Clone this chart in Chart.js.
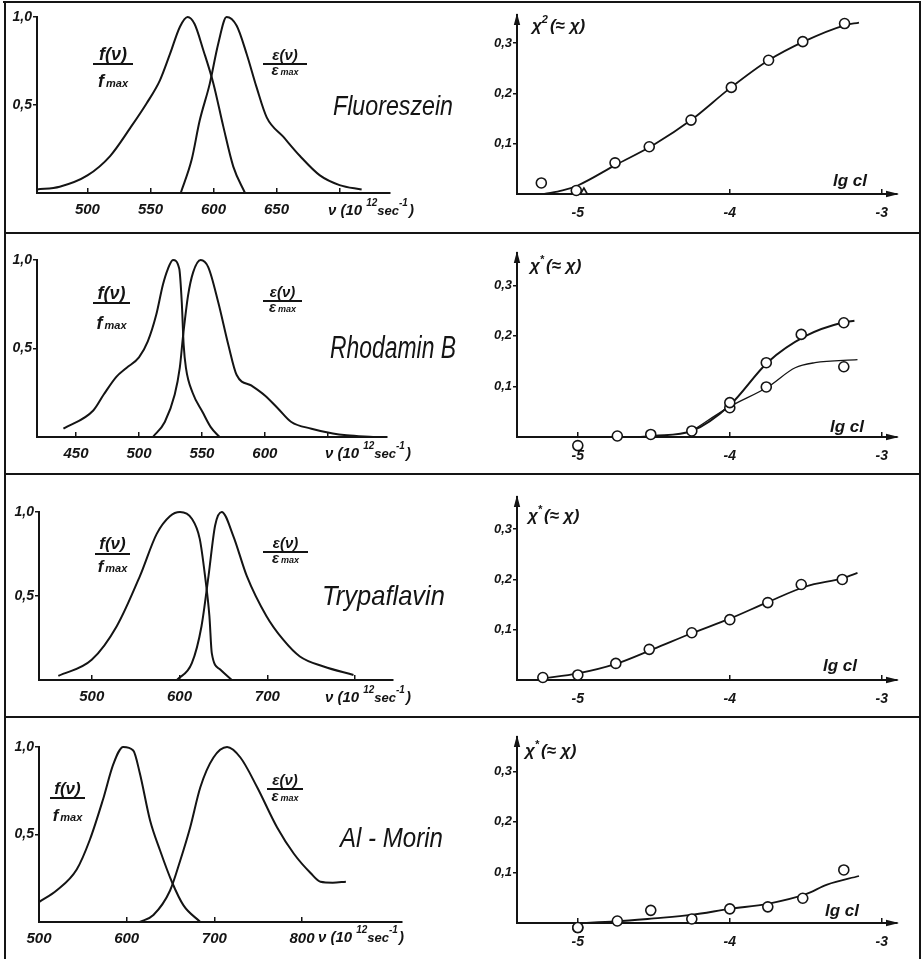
<!DOCTYPE html>
<html><head><meta charset="utf-8">
<script src="https://cdn.jsdelivr.net/npm/chart.js@4/dist/chart.umd.min.js"></script>
<style>
html,body{margin:0;padding:0;background:#fff;}
#wrap{position:relative;width:923px;height:959px;overflow:hidden;background:#fff;}
#wrap canvas{position:absolute;}
.ln{position:absolute;background:#151515;}
</style></head><body>
<div id="wrap">
<canvas id="c1L"></canvas><canvas id="c1R"></canvas>
<canvas id="c2L"></canvas><canvas id="c2R"></canvas>
<canvas id="c3L"></canvas><canvas id="c3R"></canvas>
<canvas id="c4L"></canvas><canvas id="c4R"></canvas>
<div class="ln" style="left:3px;top:1px;width:918px;height:2px"></div>
<div class="ln" style="left:4px;top:1px;width:2px;height:958px"></div>
<div class="ln" style="left:919px;top:1px;width:2px;height:958px"></div>
<div class="ln" style="left:4px;top:232px;width:917px;height:2px"></div>
<div class="ln" style="left:4px;top:473px;width:917px;height:2px"></div>
<div class="ln" style="left:4px;top:716px;width:917px;height:2px"></div>
</div>
<script>
// ---------------- DATA ----------------
// Fluoreszein spectra (nu in 10^12 s^-1, normalised)
const fluoEmNu  = [460, 478, 500, 518, 534, 547, 557.5, 565.5, 573.4, 579.5, 585, 592, 600, 607.7, 615.7, 625];
const fluoEmVal = [0.02, 0.036, 0.10, 0.21, 0.37, 0.51, 0.64, 0.79, 0.945, 1.0, 0.96, 0.81, 0.62, 0.38, 0.15, 0.0];
const fluoAbNu  = [574, 582.7, 589, 597, 603.8, 610.4, 618.4, 626.3, 634.2, 642.2, 655.3, 668.6, 684.4, 700, 717.5];
const fluoAbVal = [0.0, 0.19, 0.41, 0.62, 0.85, 1.0, 0.95, 0.79, 0.60, 0.43, 0.32, 0.21, 0.10, 0.045, 0.02];
// Rhodamin B spectra
const rhoEmNu  = [440, 463.7, 472, 482, 490, 500, 507, 513.7, 519, 523, 527, 532, 534, 535.5, 537.3, 542.6, 550.6, 557, 564];
const rhoEmVal = [0.047, 0.15, 0.24, 0.34, 0.39, 0.45, 0.54, 0.69, 0.86, 0.95, 1.0, 0.95, 0.76, 0.52, 0.39, 0.25, 0.14, 0.056, 0.0];
const rhoAbNu  = [511, 520.5, 528.4, 532.4, 535, 539, 543, 549, 555, 563, 571, 577.6, 589.5, 600, 610.6, 621, 637, 654, 665, 686];
const rhoAbVal = [0.0, 0.085, 0.24, 0.39, 0.57, 0.8, 0.93, 1.0, 0.96, 0.76, 0.52, 0.35, 0.29, 0.235, 0.16, 0.085, 0.047, 0.02, 0.01, 0.0];
// Trypaflavin spectra
const trypEmNu  = [462, 500, 528.5, 555, 574, 589, 600.5, 614, 623, 629, 634, 636.7, 646, 659.5];
const trypEmVal = [0.024, 0.12, 0.32, 0.62, 0.87, 0.975, 1.0, 0.96, 0.84, 0.62, 0.38, 0.16, 0.064, 0.0];
const trypAbNu  = [597, 614, 625, 633, 640.5, 648, 661, 676.5, 699, 718, 737, 764, 798];
const trypAbVal = [0.0, 0.10, 0.32, 0.62, 0.92, 1.0, 0.86, 0.62, 0.38, 0.24, 0.14, 0.08, 0.03];
// Al-Morin spectra
const morEmNu  = [500, 520, 543, 558, 573, 585, 596, 607.5, 615, 626.7, 638, 651.5, 664.8, 684];
const morEmVal = [0.114, 0.18, 0.30, 0.47, 0.70, 0.905, 1.0, 0.98, 0.85, 0.58, 0.41, 0.23, 0.095, 0.0];
const morAbNu  = [615, 630.5, 649.5, 661, 672.4, 684, 699, 714.5, 729.7, 748.8, 771.6, 790.7, 809.7, 821, 835, 850];
const morAbVal = [0.0, 0.04, 0.18, 0.35, 0.54, 0.77, 0.94, 1.0, 0.94, 0.77, 0.54, 0.39, 0.28, 0.23, 0.225, 0.23];

// chi*(lg cl) measurements and fitted curves
const fluoLg     = [-5.24, -5.01, -4.755, -4.53, -4.255, -3.99, -3.745, -3.52, -3.245];
const fluoChi    = [0.022, 0.007, 0.062, 0.094, 0.147, 0.212, 0.266, 0.303, 0.339];
const fluoTriLg  = [-4.96];
const fluoTriChi = [0.004];
const fluoFitLg  = [-5.22, -5.1, -5.0, -4.75, -4.5, -4.25, -4.0, -3.75, -3.5, -3.25, -3.15];
const fluoFitChi = [0.0, 0.007, 0.017, 0.058, 0.098, 0.148, 0.21, 0.265, 0.305, 0.335, 0.341];

const rhoLgA     = [-5.0, -4.74, -4.52, -4.25, -4.0, -3.76, -3.53, -3.25];
const rhoChiA    = [-0.017, 0.002, 0.005, 0.012, 0.068, 0.147, 0.203, 0.226];
const rhoLgB     = [-4.0, -3.76, -3.25];
const rhoChiB    = [0.058, 0.099, 0.139];
const rhoFitALg  = [-4.6, -4.5, -4.25, -4.0, -3.75, -3.5, -3.25, -3.18];
const rhoFitAChi = [0.0, 0.002, 0.012, 0.063, 0.148, 0.2, 0.227, 0.23];
const rhoFitBLg  = [-4.25, -4.0, -3.75, -3.57, -3.44, -3.16];
const rhoFitBChi = [0.012, 0.06, 0.099, 0.137, 0.147, 0.153];

const trypLg     = [-5.23, -5.0, -4.75, -4.53, -4.25, -4.0, -3.75, -3.53, -3.26];
const trypChi    = [0.005, 0.01, 0.033, 0.061, 0.094, 0.12, 0.154, 0.19, 0.2];
const trypFitLg  = [-5.23, -5.0, -4.75, -4.5, -4.25, -4.0, -3.75, -3.5, -3.25, -3.16];
const trypFitChi = [0.003, 0.013, 0.032, 0.062, 0.093, 0.122, 0.155, 0.186, 0.203, 0.213];

const morLg      = [-5.0, -4.74, -4.52, -4.25, -4.0, -3.75, -3.52, -3.25];
const morChi     = [-0.009, 0.004, 0.025, 0.008, 0.028, 0.032, 0.049, 0.105];
const morFitLg   = [-5.0, -4.75, -4.5, -4.25, -4.0, -3.75, -3.5, -3.36, -3.15];
const morFitChi  = [0.0, 0.003, 0.009, 0.016, 0.028, 0.038, 0.057, 0.076, 0.093];

// ticks
const fluoNuTicks = [500, 550, 600, 650, 700];
const fluoNuLabels = ['500', '550', '600', '650', ''];
const rhoNuTicks = [450, 500, 550, 600, 650];
const rhoNuLabels = ['450', '500', '550', '600', ''];
const trypNuTicks = [500, 600, 700, 800];
const trypNuLabels = ['500', '600', '700', ''];
const morNuTicks = [500, 600, 700, 800];
const morNuLabels = ['500', '600', '700', '800'];
const specYTicks = [0.5, 1.0];
const specYLabels = ['0,5', '1,0'];
const lgTicks = [-5, -4, -3];
const lgLabels = ['-5', '-4', '-3'];
const chiTicks = [0.1, 0.2, 0.3];
const chiLabels = ['0,1', '0,2', '0,3'];

const dyeNames = ['Fluoreszein', 'Rhodamin B', 'Trypaflavin', 'Al - Morin'];

// ---------------- HELPERS ----------------
const FN = '"Liberation Sans Narrow", "Liberation Sans", sans-serif';
const FS = '"Liberation Sans", "DejaVu Sans", sans-serif';
const INK = '#141414';

function xy(xs, ys) { return xs.map((x, i) => ({x: x, y: ys[i]})); }
function curve(xs, ys, w) {
  return {data: xy(xs, ys), showLine: true, borderColor: INK, borderWidth: w || 2,
          pointRadius: 0, cubicInterpolationMode: 'monotone', fill: false, clip: false};
}
function pts(xs, ys, style, r) {
  return {data: xy(xs, ys), showLine: false, pointRadius: r || 5, pointStyle: style || 'circle',
          pointBackgroundColor: '#fff', pointBorderColor: INK, pointBorderWidth: 1.6, clip: false};
}

function drawFrac(ctx, t) {
  const cx = (t.x1 + t.x2) / 2;
  ctx.lineWidth = 1.8;
  ctx.beginPath(); ctx.moveTo(t.x1, t.bar); ctx.lineTo(t.x2, t.bar); ctx.stroke();
  ctx.textBaseline = 'alphabetic';
  ctx.textAlign = 'center';
  const big = 'italic bold ' + t.size + 'px ' + FS;
  const small = 'italic bold ' + Math.round(t.size * 0.62) + 'px ' + FS;
  ctx.font = big;
  ctx.fillText(t.num, cx, t.numY);
  const w1 = ctx.measureText(t.main).width;
  ctx.font = small;
  const w2 = ctx.measureText('max').width;
  const x0 = cx - (w1 + w2 + 2) / 2;
  ctx.textAlign = 'left';
  ctx.font = big; ctx.fillText(t.main, x0, t.denY);
  ctx.font = small; ctx.fillText('max', x0 + w1 + 2, t.denY);
}
function drawNu(ctx, t) {
  let x = t.x; const y = t.y;
  ctx.textAlign = 'left'; ctx.textBaseline = 'alphabetic';
  const seg = (s, size, dy, gap) => {
    ctx.font = 'italic bold ' + size + 'px ' + FS;
    ctx.fillText(s, x, y + dy);
    x += ctx.measureText(s).width + (gap || 0);
  };
  seg('ν (10', 15, 0, 4);
  seg('12', 10, -9, 0);
  seg('sec', 13, 0, 0);
  seg('-1', 10, -9, 1);
  seg(')', 15, 0, 0);
}
function drawChi(ctx, t) {
  let x = t.x; const y = t.y;
  ctx.textAlign = 'left'; ctx.textBaseline = 'alphabetic';
  ctx.font = 'italic bold 17px ' + FS;
  ctx.fillText('χ', x, y); x += ctx.measureText('χ').width;
  ctx.font = 'italic bold 11px ' + FS;
  ctx.fillText(t.sup, x, y - 8); x += ctx.measureText(t.sup).width + 2;
  ctx.font = 'italic bold 17px ' + FS;
  ctx.fillText('(≈ χ)', x, y);
}
function drawTitle(ctx, t) {
  ctx.font = 'italic ' + t.size + 'px ' + FS;
  ctx.textAlign = 'left'; ctx.textBaseline = 'alphabetic';
  const w = ctx.measureText(t.s).width;
  const sx = t.w / w;
  ctx.save();
  ctx.translate(t.x, t.y);
  ctx.scale(sx, 1);
  ctx.fillText(t.s, 0, 0);
  ctx.restore();
}
function drawItem(ctx, t) {
  ctx.fillStyle = INK; ctx.strokeStyle = INK;
  if (t.type === 'title') drawTitle(ctx, t);
  else if (t.type === 'frac') drawFrac(ctx, t);
  else if (t.type === 'nu') drawNu(ctx, t);
  else if (t.type === 'chi') drawChi(ctx, t);
  else if (t.type === 'lg') {
    ctx.font = 'italic bold 17px ' + FS;
    ctx.textAlign = 'left'; ctx.textBaseline = 'alphabetic';
    ctx.fillText('lg cl', t.x, t.y);
  }
}

function buildChart(p) {
  const cv = document.getElementById(p.id);
  cv.width = p.rect.w; cv.height = p.rect.h;
  cv.style.left = p.rect.x + 'px'; cv.style.top = p.rect.y + 'px';
  cv.style.width = p.rect.w + 'px'; cv.style.height = p.rect.h + 'px';
  const XH = 30, padL = 2;
  const yW = p.area.l - p.rect.x - padL;
  const pad = {left: padL, top: p.area.t - p.rect.y,
               right: p.rect.x + p.rect.w - p.area.r,
               bottom: p.rect.y + p.rect.h - p.area.b - XH};
  const decor = {
    id: 'decor' + p.id,
    afterDatasetsDraw(chart) {
      // the library skips points lying outside the chart area; draw those (below the axis) too
      const a = chart.chartArea;
      chart.data.datasets.forEach((ds, i) => {
        if (ds.showLine) return;
        chart.getDatasetMeta(i).data.forEach(el => {
          if (el.y > a.bottom + 4 || el.y < a.top - 4) el.draw(chart.ctx);
        });
      });
    },
    afterDraw(chart) {
      const ctx = chart.ctx;
      ctx.save();
      ctx.fillStyle = INK;
      if (p.arrows) {
        const a = chart.chartArea;
        ctx.beginPath();
        ctx.moveTo(a.right + 2, a.bottom); ctx.lineTo(a.right - 11, a.bottom - 3.2); ctx.lineTo(a.right - 11, a.bottom + 3.2);
        ctx.closePath(); ctx.fill();
        ctx.beginPath();
        ctx.moveTo(a.left, a.top - 2); ctx.lineTo(a.left - 3.2, a.top + 10); ctx.lineTo(a.left + 3.2, a.top + 10);
        ctx.closePath(); ctx.fill();
      }
      ctx.translate(-p.rect.x, -p.rect.y);
      (p.texts || []).forEach(t => drawItem(ctx, t));
      ctx.restore();
    }
  };
  return new Chart(cv, {
    type: 'scatter',
    data: {datasets: p.datasets},
    options: {
      responsive: false, animation: false, events: [],
      devicePixelRatio: 1,
      layout: {padding: pad},
      plugins: {legend: {display: false}, tooltip: {enabled: false}, title: {display: false}},
      scales: {
        x: {
          type: 'linear', position: 'bottom', min: p.xr[0], max: p.xr[1],
          afterFit: s => { s.height = XH; },
          afterBuildTicks: s => { s.ticks = p.xTicks.map(v => ({value: v})); },
          grid: {display: true, drawOnChartArea: false, drawTicks: true, tickLength: -5,
                 color: INK, tickColor: INK, lineWidth: 1.5},
          border: {display: true, color: INK, width: 2},
          ticks: {padding: p.xPad, color: INK, font: p.xFont, autoSkip: false, maxRotation: 0,
                  callback: (v, i) => p.xLabels[i]}
        },
        y: {
          type: 'linear', position: 'left', min: p.yr[0], max: p.yr[1],
          afterFit: s => { s.width = yW; },
          afterBuildTicks: s => { s.ticks = p.yTicks.map(v => ({value: v})); },
          grid: {display: true, drawOnChartArea: false, drawTicks: true, tickLength: 4,
                 color: INK, tickColor: INK, lineWidth: 1.5},
          border: {display: true, color: INK, width: 2},
          ticks: {padding: 1, color: INK, font: p.yFont, autoSkip: false,
                  callback: (v, i) => p.yLabels[i]}
        }
      }
    },
    plugins: [decor]
  });
}

// ---------------- LAYOUT ----------------
const rows = [{y: 0, h: 234}, {y: 235, h: 241}, {y: 477, h: 240}, {y: 718, h: 241}];
const L = r => ({x: 0, y: rows[r].y, w: 460, h: rows[r].h});
const R = r => ({x: 460, y: rows[r].y, w: 463, h: rows[r].h});
const leftXFont = {family: FS, size: 15, style: 'italic', weight: 'bold'};
const leftYFont = {family: FS, size: 14, style: 'italic', weight: 'bold'};
const rightXFont = {family: FS, size: 14, style: 'italic', weight: 'bold'};
const rightYFont = {family: FS, size: 13, style: 'italic', weight: 'bold'};

function specPanel(id, r, area, xr, xTicks, xLabels, em, ab, texts) {
  return buildChart({id, rect: L(r), area, xr, yr: [0, 1], xTicks, xLabels,
    yTicks: specYTicks, yLabels: specYLabels, xFont: leftXFont, yFont: leftYFont, xPad: 13,
    datasets: [curve(em[0], em[1], 2), curve(ab[0], ab[1], 2)], texts});
}
function chiPanel(id, r, area, ymax, datasets, texts) {
  return buildChart({id, rect: R(r), area, xr: [-5.4, -2.9], yr: [0, ymax], xTicks: lgTicks, xLabels: lgLabels,
    yTicks: chiTicks, yLabels: chiLabels, xFont: rightXFont, yFont: rightYFont, xPad: 16,
    arrows: true, datasets, texts});
}

// Row 1: Fluoreszein
specPanel('c1L', 0, {l: 37, t: 17, r: 390, b: 193}, [460, 740], fluoNuTicks, fluoNuLabels,
  [fluoEmNu, fluoEmVal], [fluoAbNu, fluoAbVal], [
    {type: 'frac', x1: 93, x2: 133, bar: 64, num: 'f(ν)', numY: 60, main: 'f', denY: 87, size: 18},
    {type: 'frac', x1: 263, x2: 307, bar: 64, num: 'ε(ν)', numY: 60, main: 'ε', denY: 75, size: 15},
    {type: 'title', s: dyeNames[0], x: 333, y: 115, size: 28, w: 120},
    {type: 'nu', x: 328, y: 215}
  ]);
chiPanel('c1R', 0, {l: 517, t: 15, r: 897, b: 194}, 0.356,
  [pts(fluoLg, fluoChi), pts(fluoTriLg, fluoTriChi, 'triangle', 4), curve(fluoFitLg, fluoFitChi, 1.8)], [
    {type: 'chi', x: 532, y: 31, sup: '2'},
    {type: 'lg', x: 833, y: 186}
  ]);

// Row 2: Rhodamin B
specPanel('c2L', 1, {l: 37, t: 260, r: 387, b: 437}, [419, 697], rhoNuTicks, rhoNuLabels,
  [rhoEmNu, rhoEmVal], [rhoAbNu, rhoAbVal], [
    {type: 'frac', x1: 93, x2: 130, bar: 303, num: 'f(ν)', numY: 299, main: 'f', denY: 329, size: 18},
    {type: 'frac', x1: 263, x2: 302, bar: 301, num: 'ε(ν)', numY: 297, main: 'ε', denY: 312, size: 15},
    {type: 'title', s: dyeNames[1], x: 330, y: 358, size: 31, w: 126},
    {type: 'nu', x: 325, y: 458}
  ]);
chiPanel('c2R', 1, {l: 517, t: 253, r: 897, b: 437}, 0.364,
  [pts(rhoLgA, rhoChiA), pts(rhoLgB, rhoChiB), curve(rhoFitALg, rhoFitAChi, 2), curve(rhoFitBLg, rhoFitBChi, 1.3)], [
    {type: 'chi', x: 530, y: 271, sup: '*'},
    {type: 'lg', x: 830, y: 432}
  ]);

// Row 3: Trypaflavin
specPanel('c3L', 2, {l: 39, t: 512, r: 393, b: 680}, [440, 843], trypNuTicks, trypNuLabels,
  [trypEmNu, trypEmVal], [trypAbNu, trypAbVal], [
    {type: 'frac', x1: 95, x2: 130, bar: 554, num: 'f(ν)', numY: 549, main: 'f', denY: 572, size: 17},
    {type: 'frac', x1: 263, x2: 308, bar: 552, num: 'ε(ν)', numY: 548, main: 'ε', denY: 563, size: 15},
    {type: 'title', s: dyeNames[2], x: 322, y: 605, size: 28, w: 123},
    {type: 'nu', x: 325, y: 702}
  ]);
chiPanel('c3R', 2, {l: 517, t: 497, r: 897, b: 680}, 0.364,
  [pts(trypLg, trypChi), curve(trypFitLg, trypFitChi, 1.8)], [
    {type: 'chi', x: 528, y: 521, sup: '*'},
    {type: 'lg', x: 823, y: 671}
  ]);

// Row 4: Al-Morin
specPanel('c4L', 3, {l: 39, t: 747, r: 402, b: 922}, [500, 914], morNuTicks, morNuLabels,
  [morEmNu, morEmVal], [morAbNu, morAbVal], [
    {type: 'frac', x1: 50, x2: 85, bar: 798, num: 'f(ν)', numY: 794, main: 'f', denY: 821, size: 17},
    {type: 'frac', x1: 267, x2: 303, bar: 789, num: 'ε(ν)', numY: 785, main: 'ε', denY: 801, size: 15},
    {type: 'title', s: dyeNames[3], x: 340, y: 847, size: 28, w: 103},
    {type: 'nu', x: 318, y: 942}
  ]);
chiPanel('c4R', 3, {l: 517, t: 737, r: 897, b: 923}, 0.368,
  [pts(morLg, morChi), curve(morFitLg, morFitChi, 1.8)], [
    {type: 'chi', x: 525, y: 756, sup: '*'},
    {type: 'lg', x: 825, y: 916}
  ]);
</script>
</body></html>
